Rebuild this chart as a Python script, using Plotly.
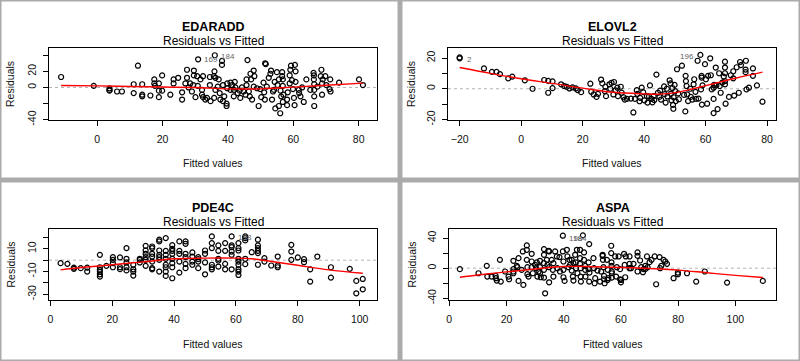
import plotly.graph_objects as go

# ---------------- data (fitted value, residual) ----------------
edaradd_points = [
    (-11, 13), (-1, 2), (3.8, -1), (3.8, -3), (3.8, -4), (6.1, -5), (7.6, -5), (11.2, 4), (11.2, -7),
    (12.5, 27), (13.8, 4), (13.8, -9), (13.8, -11), (16.3, -10), (17.5, 10), (17.5, 5), (17.7, 2),
    (18.9, 5), (18.9, -4), (18.9, -12), (19.9, 15), (19.9, -4), (22.4, -9), (23.4, 10), (23.4, 5),
    (24.8, 12), (26, -6), (26, -15), (27, 5), (27.5, 12), (27.5, 22), (28, 0), (28.5, 5), (29, -5),
    (29.6, 21), (29.6, 15), (29.4, 3), (30.6, 14), (30.8, 2), (30.1, -12), (30.9, 35), (31.6, 10),
    (32.1, -3), (32.1, -9), (32.4, 14), (32.4, -12), (33.1, -15), (33.6, -13), (34.5, 13), (34.5, 3),
    (34.7, -17), (35.7, 14), (35.9, 20), (35.8, -13), (36, 40), (36.2, 12), (36.2, -3), (36.9, 1),
    (37.2, 10), (37.5, -7), (37.7, -15), (38.2, 33), (38.2, 28), (38.5, 3), (38.5, -17), (38.9, -11),
    (39.6, -20), (39.6, -23), (39.8, 5), (39.8, -1), (40.8, 6), (40.8, -3), (41.3, 3), (41.8, -3),
    (41.8, -11), (42.1, 7), (42.3, 0), (43, -7), (43.6, -4), (43.8, -13), (44.3, 0), (44.8, -5),
    (45.4, -9), (45.7, 10), (45.7, 3), (46, 34), (46.4, -5), (46.7, -11), (46.9, 17), (47.1, 10),
    (47.4, -15), (47.9, 21), (48.1, 14), (47.9, 1), (48.9, -1), (49.4, -23), (49.9, -2), (50.2, -12),
    (50.9, 6), (51.1, -6), (51.3, -15), (51.4, 30), (51.6, 29), (51.9, 1), (52.5, 12), (53, 17),
    (53.2, 21), (53.5, -15), (53.8, -5), (54.1, -3), (54.3, 7), (54.5, -26), (55, 19), (55.2, 3),
    (55.6, 10), (55.6, -23), (56.1, -4), (56.3, -11), (56.6, 19), (56.6, 14), (56.8, 10), (56.8, 2),
    (57, -9), (56.8, -18), (56, -32), (58.1, -15), (58.1, -22), (58.3, -6), (58.9, 5), (58.9, 15),
    (59.1, 22), (59.3, 27), (59.6, 9), (59.9, -2), (60.2, -13), (60.4, -22), (60.5, 28), (60.7, 20),
    (60.7, 7), (61.7, -3), (61.8, -7), (62.2, -11), (62.7, 0), (63.2, -18), (64, 10), (65.2, -3),
    (66.2, 18), (66.3, 10), (66.3, 15), (66.4, 4), (66.4, -3), (66.4, -11), (66.4, -23), (67.4, 1),
    (68.4, 14), (68.6, 22), (68.8, 5), (68.8, -9), (69, 10), (69.8, 14), (70.1, 3), (71.1, -2),
    (71.3, 10), (71.4, -5), (74, 6), (80.1, 10), (81.3, 3),
]
edaradd_smooth_x = [-11, 0, 10, 20, 30, 40, 50, 55, 60, 70, 81.3]
edaradd_smooth_y = [2.5, 2.0, 1.2, 0.5, 0.0, -1.8, -1.7, -0.6, 0.4, 2.8, 5.4]

elovl2_points = [
    (-20, 20.4), (-20, 19.8), (-12.1, 13.2), (-9.5, 11), (-8.0, 11), (-6.9, 9.5), (-4.2, 6.8),
    (-2.9, 7.9), (1.2, 5.5), (3.7, 0), (7.5, 5.7), (8.8, 5.1), (10.2, 4.8), (8.8, -2.6), (10.2, 0.4),
    (13, 2.9), (14, 1.8), (14.8, 1.3), (15.7, 0.2), (16.7, 0.9), (17.8, 0.2), (18.4, -0.9), (19.5, -2.2),
    (22.5, 3.3), (22.8, -1.9), (23.6, -3.7), (24.5, -5.3), (25, -3.3), (26, 6.0), (26.4, 3.5),
    (27.2, -1.5), (27.4, 1.3), (27.6, -4.8), (28.7, 2.9), (29, 0), (29.4, 3.9), (30, -3.7), (30.2, 4.4),
    (30.7, -1), (31.3, 0.7), (31.5, -4.8), (32.4, 1.3), (32.7, -2.6), (33.3, -5.5), (33.7, -7),
    (34.4, -6.6), (35.7, -6.4), (36.5, -15.4), (37, -6.6), (37.6, -0.9), (37.8, -3.3), (38.5, -8.1),
    (38.7, -5.9), (39.2, 0.7), (39.7, -2.2), (40.1, -7.5), (40.9, -4.8), (41.1, -9), (41.6, -5),
    (41.9, 2.2), (42.4, -6.6), (42.7, -8.8), (43.1, -4.8), (43.3, -7.3), (44, 9.2), (44.5, -2.6),
    (45, -5.3), (45.2, -1.2), (45.5, -7), (46.5, 1.5), (46.7, -3.5), (47, -9), (47.4, 0), (47.6, -5),
    (48.3, 5.5), (48.6, 3.5), (48.7, -3.3), (48.9, -7.5), (49.2, 0.5), (49.4, -10.5), (49.5, -13),
    (49.6, -5.5), (49.9, 2.5), (50.1, -1.5), (50.3, -8), (50.7, 12.7), (51.1, -3), (51.3, -6.8),
    (52.3, 15), (53, -4), (53.4, -14.7), (53.5, 8.4), (53.6, 5), (53.8, 1.8), (54, -3.7), (54.3, -8),
    (55, 0), (55.2, -5.3), (55.7, -7), (56.1, 2.9), (56.3, 6.2), (56.7, -2), (56.9, -6.6), (57.4, 18.2),
    (57.7, -6.4), (58.3, 22), (58.5, -0.4), (58.7, 7.3), (58.7, 8.4), (58.8, -10.3), (59, 2.2),
    (59.8, 16), (60.1, 6.2), (60.5, -9.7), (60.8, 8.4), (61.5, 19.8), (61.7, 8.8), (62, -0.4),
    (62.6, -15.8), (62.6, -6.6), (62.6, 0.7), (62.8, 2.6), (63.3, 13.8), (63.5, 2.2), (63.9, -13.2),
    (64.4, 10.1), (64.6, 1.8), (64.9, -2.6), (65.4, 4), (65.9, 7.9), (66.3, 17.6), (66.3, 13.8),
    (66.3, 10.1), (66.3, 5), (66.3, 2.9), (66.5, -9.7), (67.6, -5.3), (68.2, 8.8), (69, 6.8),
    (69, 11.4), (69.3, -4.4), (70.1, 14), (70.8, -2.6), (71.2, 17.4), (71.5, 15.4), (73, 12.5),
    (73, 10.8), (73.1, 18.2), (73.3, -0.4), (74.1, 0.7), (75.4, 13.2), (75.4, 8.4), (76.7, 2.2),
    (78.5, -8.4),
]
elovl2_smooth_x = [-20, -10, 0, 10, 20, 30, 40, 45, 50, 55, 60, 65, 70, 78.5]
elovl2_smooth_y = [13.8, 10.0, 6.5, 3.5, 0.4, -2.3, -3.3, -3.5, -2.7, -0.5, 2.0, 4.5, 7.0, 10.8]

pde4c_points = [
    (3.3, -2.6), (5.5, -3.2), (7.6, -6.5), (7.6, -7.6), (9.8, -7), (11.9, -6.5), (11.9, -10),
    (16, 4.7), (16, -6.2), (16, -8.5), (16, -10), (16, -12.4), (16, -14.4), (18.1, -5),
    (20.2, 2.6), (20.2, 0.3), (20.2, -2.6), (20.2, -6.2), (22.5, 2.4), (22.5, -6.2), (22.5, -7.9),
    (24.6, 10.6), (24.6, 1.2), (24.6, -2), (24.6, -6.2), (24.6, -9), (26.8, -4), (26.8, -8),
    (26.8, -10), (26.8, -13.5), (28.9, 1.2), (28.9, -2), (28.9, 0.3), (30.8, 12.6), (30.8, 8.5),
    (30.8, 5.6), (30.8, 2.6), (30.8, 0.3), (30.8, -5), (32.9, 12), (32.9, 10.6), (32.9, 5.6),
    (32.9, 3.2), (32.9, -1.2), (32.9, -7), (32.9, -8), (35.2, 18), (35.2, 16.5), (35.2, 8.5),
    (35.2, 4.7), (35.2, 2.6), (35.2, 0.3), (35.2, -10), (37.3, 19.4), (37.3, 8.2), (37.3, 4.7),
    (37.3, 1.2), (37.3, -4), (37.3, -6.2), (37.3, -10), (37.3, -13.8), (39.4, 13.2), (39.4, 10),
    (39.4, 8.2), (39.4, 5.6), (39.4, 1.2), (39.4, -2.6), (39.4, -6.2), (39.4, -15.9), (41.7, 16.5),
    (41.7, 8.2), (41.7, 5.6), (41.7, -1.2), (41.7, -10.9), (43.7, 16.5), (43.7, 14.4), (43.7, 5.6),
    (43.7, 2.6), (43.7, -3.2), (43.7, -7), (45.9, 6.8), (45.9, 3.2), (45.9, -1.2), (45.9, -4),
    (47.8, 2.6), (47.8, 0.9), (47.8, -1.2), (47.8, -7), (50, 8.5), (50, 5.6), (50, -2), (50, -12.4),
    (52.2, 20.9), (52.2, 15), (52.2, 10.6), (52.2, -4), (52.2, -6.2), (52.2, -8), (54.3, 13),
    (54.3, 8.2), (54.3, 1.2), (54.3, -0.3), (54.3, -5.6), (56.5, 15), (56.5, 8.2), (56.5, -3.2),
    (56.5, -8), (58.6, 20.9), (58.6, 13), (58.6, 11.5), (58.6, 7.6), (58.6, 4.7), (58.6, -8),
    (60.8, 15), (60.8, 10.6), (60.8, 8.5), (60.8, 1.2), (60.8, -1.2), (60.8, -4), (60.8, -8),
    (60.8, -10), (60.8, -13), (63, 20.9), (63, 19.4), (63, 17.4), (63, 1.2), (63, -3.5), (65.1, 7),
    (67.1, 18), (67.1, 13), (67.1, 10.6), (67.1, 8.2), (67.1, 6.2), (67.1, -4), (69.2, 1.8),
    (69.2, -1.2), (71.4, -4.7), (73.5, 3.2), (73.5, -4.7), (73.5, -6.2), (77.9, 13.5), (77.9, 7.6),
    (77.9, 0.3), (80, 2.4), (82, 0.9), (82, -1.8), (84, -8), (84, -18.8), (86.3, 3.2), (90.7, -6.2),
    (90.7, -15.3), (96.8, -7.6), (98.9, -18.2), (98.9, -29.1), (101, -16.5), (101, -25.6),
]
pde4c_smooth_x = [3.3, 10, 20, 30, 40, 50, 60, 65, 70, 80, 90, 101]
pde4c_smooth_y = [-8.5, -6.5, -4.0, -1.5, 1.2, 1.8, 1.8, 1.2, -0.5, -4.5, -8.5, -11.5]

aspa_points = [
    (3.7, -1.3), (10.2, -6.7), (13.1, 3.1), (13.3, -11.1), (14.8, -11.1), (16.2, -10.2), (16.3, -13.3),
    (16.6, -16.4), (17.7, 11.1), (18.0, -17.8), (19.5, -4.4), (20.7, -11.1), (20.9, -14.7), (22.4, 9.8),
    (22.4, -1.3), (22.4, -4.4), (22.4, -6.7), (23.6, 3.1), (23.8, 1.3), (24.2, -16.9), (24.2, 13.3),
    (25.3, -2.2), (25.7, 22.2), (25.9, -22.2), (27.1, 30.2), (27.1, 24.4), (27.1, 11.1), (27.3, 1.3),
    (27.3, -8), (27.7, -11.1), (28.8, 19.1), (28.8, 8.9), (28.8, 1.3), (29.2, -6.7), (30.0, 4.4),
    (30.3, 0), (30.6, 7.6), (30.8, -11.1), (31.2, -4.4), (31.7, 9.8), (31.7, 1.3), (31.7, -6.7),
    (32.0, -12), (33.1, 25.3), (33.1, 17.8), (33.1, 6.7), (33.1, -2.2), (33.1, -12.4), (33.5, -33.3),
    (34.1, 11.1), (34.3, 4.4), (34.7, 23.1), (34.9, 22.2), (34.9, 1.3), (34.9, -18.7), (35.8, 11.1),
    (36.2, -2.2), (36.4, 6.7), (36.4, -11.1), (37.0, 22.2), (37.6, 15.6), (37.8, 0), (38.5, 14.7),
    (38.7, -4.4), (39.7, 43.1), (39.7, 22.2), (39.9, 8.9), (39.9, -2.2), (39.9, -12), (40.3, -16.9),
    (41.1, 24.4), (41.3, 15.6), (41.7, 1.3), (42.0, 11.1), (42.2, 4.4), (42.8, 11.1), (42.8, -3.1),
    (43.2, -11.1), (43.4, 6.7), (43.4, -16.4), (44.0, 17.8), (44.2, 7.6), (44.3, 0), (44.6, 24.4),
    (44.8, -6.7), (45.7, 24.4), (45.7, 13.3), (45.7, 5.8), (45.9, 0), (45.9, -11.1), (46.0, -17.8),
    (46.7, 43.6), (47.1, 20.9), (47.1, 11.1), (47.5, 3.1), (47.5, -2.2), (47.6, -11.1), (48.9, 32),
    (48.7, 7.6), (48.7, -1.3), (48.9, -17.8), (49.0, -5.8), (50.4, 13.3), (50.6, 0), (50.8, -20),
    (51.0, -13.3), (51.8, -3.1), (52.7, -17.8), (53.1, -4.4), (53.6, 17.8), (53.6, 16.4), (53.7, 11.1),
    (53.9, 1.3), (54.1, -10.2), (54.1, -14.7), (54.3, -20), (55.1, 11.1), (55.3, -15.6), (55.4, -2.2),
    (55.6, -13.3), (56.6, 29.8), (56.6, 20), (56.7, 7.6), (56.7, 3.1), (56.8, -4.4), (56.8, -6.7),
    (56.8, -12.4), (58.0, 15.6), (58.3, -11.1), (58.6, 1.3), (59.2, 15.6), (59.7, -14.7), (59.7, -1.3),
    (60.0, -15.6), (60.0, -18.7), (61.1, 19.1), (61.3, 4.4), (61.5, -12), (61.7, 15.6), (63.0, 0),
    (63.0, 5.8), (63.0, 15.6), (63.5, 0), (64.4, 5.8), (65.8, 20.9), (65.8, 16.4), (65.8, -4.4),
    (66.7, 10.2), (67.1, 1.3), (67.7, -5.3), (67.9, -1.3), (68.5, 3.1), (68.5, -1.3), (69.1, 15.6),
    (69.3, 1.3), (70.0, 8), (70.7, 11.1), (71.8, 15.6), (72.3, -21.3), (73.5, 14.7), (73.7, 0),
    (74.1, 3.1), (74.9, 11.1), (75.5, 8.9), (76.1, 5.8), (78.4, -13.3), (79.9, -5.8), (79.9, -8),
    (83.1, -6.7), (86.3, -17.8), (89.3, -4.4), (97.1, -19.1), (109.6, -16.9),
]
aspa_smooth_x = [3.7, 10, 20, 30, 40, 50, 60, 70, 80, 90, 100, 109.6]
aspa_smooth_y = [-12, -9, -4.9, -1, 2.2, 2, 1, -0.5, -2.5, -6, -9.5, -12.4]

# point-id labels: (text, x, y, anchor)
edaradd_ids = [("169", 32.1, 34.6, "left"), ("184", 37.2, 37.9, "left"), ("39", 54.9, -61, "center")]
elovl2_ids = [("2", -18.3, 19.3, "left"), ("196", 57.0, 21.1, "right")]
pde4c_ids = [("198", 60.0, 20.3, "left"), ("171", 96.4, -49, "center"), ("184", 99.0, -46, "center")]
aspa_ids = [("198", 41.0, 40.0, "left"), ("184", 42.6, 40.0, "left"), ("1", 35.2, -63.6, "center")]

panel_titles = ["EDARADD", "ELOVL2", "PDE4C", "ASPA"]
subtitle = "Residuals vs Fitted"
x_title = "Fitted values"
y_title = "Residuals"

# ---------------- layout geometry (pixels) ----------------
W, H = 800, 361
FONT = "Liberation Sans, Arial, sans-serif"

panels = [
    dict(pts=edaradd_points, sx=edaradd_smooth_x, sy=edaradd_smooth_y, ids=edaradd_ids,
         box=(49, 48, 377, 120), frame=(0, 0, 399, 179),
         xr=[-14.7, 85.6], yr=[-40.4, 49], xt=[0, 20, 40, 60, 80],
         yt=[-40, -20, 0, 20, 40], ytt=["-40", "", "0", "20", ""]),
    dict(pts=elovl2_points, sx=elovl2_smooth_x, sy=elovl2_smooth_y, ids=elovl2_ids,
         box=(448, 48, 776, 120), frame=(401, 0, 800, 179),
         xr=[-23.8, 82.9], yr=[-20.3, 26.5], xt=[-20, 0, 20, 40, 60, 80],
         yt=[-20, -10, 0, 10, 20], ytt=["-20", "", "0", "", "20"]),
    dict(pts=pde4c_points, sx=pde4c_smooth_x, sy=pde4c_smooth_y, ids=pde4c_ids,
         box=(49, 229, 377, 300), frame=(0, 181, 399, 361),
         xr=[-0.45, 105.6], yr=[-35, 27.4], xt=[0, 20, 40, 60, 80, 100],
         yt=[-30, -20, -10, 0, 10, 20], ytt=["-30", "", "-10", "", "10", ""]),
    dict(pts=aspa_points, sx=aspa_smooth_x, sy=aspa_smooth_y, ids=aspa_ids,
         box=(449, 229, 776, 300), frame=(401, 181, 800, 361),
         xr=[-0.1, 114.2], yr=[-42.2, 52], xt=[0, 20, 40, 60, 80, 100],
         yt=[-40, -20, 0, 20, 40], ytt=["-40", "", "0", "", "40"]),
]

def fx(p):
    return p / W

def fy(p):
    return 1 - p / H

fig = go.Figure()
shapes = []
annotations = []
layout = {}

for i, (p, title) in enumerate(zip(panels, panel_titles)):
    s = "" if i == 0 else str(i + 1)
    xa, ya = "x" + s, "y" + s
    x0, y0, x1, y1 = p["box"]
    fxs = [a for a, b in p["pts"]]
    rys = [b for a, b in p["pts"]]
    fig.add_trace(go.Scatter(
        x=fxs, y=rys, mode="markers", xaxis=xa, yaxis=ya, showlegend=False,
        marker=dict(symbol="circle-open", size=5, color="black", line=dict(width=1.2)),
        cliponaxis=False, hoverinfo="skip"))
    fig.add_trace(go.Scatter(
        x=p["sx"], y=p["sy"], mode="lines", xaxis=xa, yaxis=ya, showlegend=False,
        line=dict(color="#ff0000", width=1.4, shape="spline"), hoverinfo="skip"))
    axis_common = dict(showline=True, mirror=True, linecolor="black", linewidth=1,
                       ticks="outside", ticklen=5, tickcolor="black", tickwidth=1,
                       showgrid=False, zeroline=False, fixedrange=True, automargin=False,
                       tickfont=dict(family=FONT, size=10.5, color="#111"))
    layout["xaxis" + s] = dict(axis_common, domain=[fx(x0), fx(x1)], range=p["xr"],
                               tickvals=p["xt"], anchor=ya, ticklabelstandoff=4)
    layout["yaxis" + s] = dict(axis_common, domain=[fy(y1), fy(y0)], range=p["yr"],
                               tickvals=p["yt"], ticktext=p["ytt"], tickangle=-90,
                               anchor=xa, ticklabelstandoff=3)
    # zero reference line
    shapes.append(dict(type="line", xref=xa + " domain", yref=ya, x0=0, x1=1, y0=0, y1=0,
                       line=dict(color="#b3b3b3", width=1, dash="dot"), layer="below"))
    # panel frame
    fx0, fy0, fx1, fy1 = p["frame"]
    shapes.append(dict(type="rect", xref="paper", yref="paper",
                       x0=fx(fx0), x1=fx(fx1), y0=fy(fy1), y1=fy(fy0),
                       line=dict(color="#ababab", width=3)))
    cx = fx((x0 + x1) / 2)
    ftop = p["frame"][1]
    annotations.append(dict(text="<b>" + title + "</b>", xref="paper", yref="paper", x=cx,
                            y=fy(ftop + 27), showarrow=False, xanchor="center", yanchor="middle",
                            font=dict(family=FONT, size=12.5, color="black")))
    annotations.append(dict(text=subtitle, xref="paper", yref="paper", x=cx, y=fy(ftop + 41),
                            showarrow=False, xanchor="center", yanchor="middle",
                            font=dict(family=FONT, size=12, color="black")))
    annotations.append(dict(text=x_title, xref="paper", yref="paper", x=cx, y=fy(ftop + 163),
                            showarrow=False, xanchor="center", yanchor="middle",
                            font=dict(family=FONT, size=10.5, color="#111")))
    annotations.append(dict(text=y_title, xref="paper", yref="paper",
                            x=fx(p["frame"][0] + 10), y=fy((y0 + y1) / 2), textangle=-90,
                            showarrow=False, xanchor="center", yanchor="middle",
                            font=dict(family=FONT, size=10.5, color="#111")))
    for t, lx, ly, anc in p["ids"]:
        annotations.append(dict(text=t, xref=xa, yref=ya, x=lx, y=ly, showarrow=False,
                                xanchor=anc, yanchor="middle",
                                font=dict(family=FONT, size=8, color="#666")))

fig.update_layout(
    width=W, height=H, margin=dict(l=0, r=0, t=0, b=0),
    paper_bgcolor="white", plot_bgcolor="white",
    shapes=shapes, annotations=annotations, **layout)

fig.write_html("out.html", config={"displayModeBar": False},
               post_script="document.body.style.margin='0';document.body.style.overflow='hidden';")
